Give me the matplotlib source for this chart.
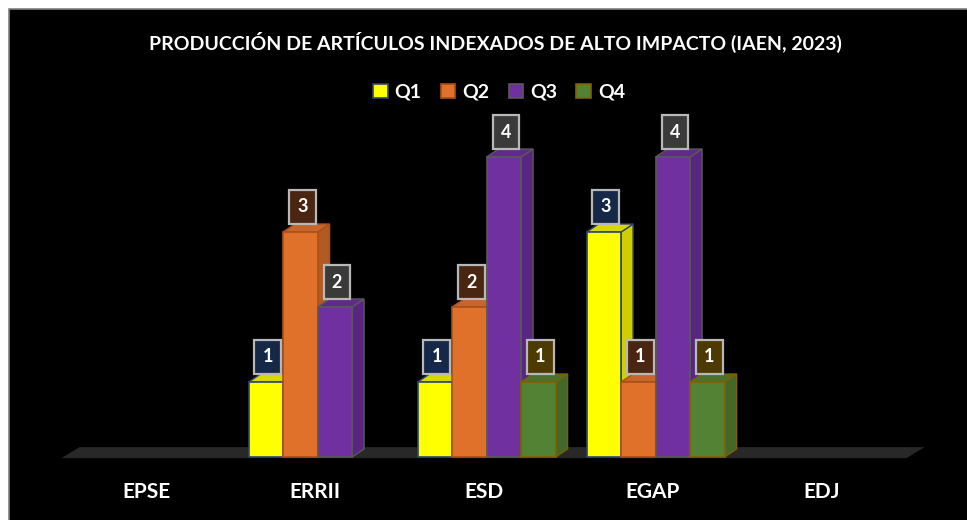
import matplotlib
matplotlib.use("Agg")
import matplotlib.pyplot as plt
from matplotlib.patches import Polygon, Rectangle, Patch
import numpy as np

plt.rcParams['font.family'] = ['Lato', 'DejaVu Sans']

title = "PRODUCCIÓN DE ARTÍCULOS INDEXADOS DE ALTO IMPACTO (IAEN, 2023)"
categories = ["EPSE", "ERRII", "ESD", "EGAP", "EDJ"]
series = ["Q1", "Q2", "Q3", "Q4"]
q1 = [0, 1, 1, 3, 0]
q2 = [0, 3, 2, 1, 0]
q3 = [0, 2, 4, 4, 0]
q4 = [0, 0, 1, 1, 0]
values = [q1, q2, q3, q4]

front = ["#FFFF00", "#E0712A", "#7030A0", "#548235"]
side = ["#CFCF00", "#B35A22", "#582680", "#43682A"]
top = ["#D8D800", "#C8652A", "#602A8C", "#4A722E"]
edges = ["#2F4470", "#A8501A", "#595959", "#7F6000"]
lab_bg = ["#162848", "#4A2612", "#3A3A3A", "#4D3A00"]

W, H = 967, 520
fig = plt.figure(figsize=(W/100, H/100), dpi=100, facecolor="white")
fig.patches.append(Rectangle((9/W, -0.01), 1.0, 1 - 9/H + 0.01, transform=fig.transFigure,
                             facecolor="black", edgecolor="#808080", lw=1.2, zorder=-5))

# axes: x unit = 169 px, y unit = 75 px, y=0 at 457 px
ax = fig.add_axes([61.5/W, (H-457)/H, 845/W, 337.5/H])
ax.set_zorder(2)
ax.set_xlim(-0.5, 4.5)
ax.set_ylim(0, 4.5)
ax.axis("off")
ax.patch.set_alpha(0)

xu, yu = 169.0, 75.0
dx, dy = 12/xu, 8/yu
bw = 34.5/xu
x = np.arange(len(categories))

# floor
fdx, fdy = 18/xu, 11/yu
floor = Polygon([(-0.5, -0.015), (4.5, -0.015), (4.5+fdx, -0.015+fdy), (-0.5+fdx, -0.015+fdy)],
                closed=True, facecolor="#282828", edgecolor="none", zorder=1, clip_on=False)
ax.add_patch(floor)

for s, vals in enumerate(values):
    lefts = x - 0.393 + s*bw
    v = np.array(vals, dtype=float)
    mask = v > 0
    ax.bar(lefts[mask], v[mask], width=bw, align="edge", color=front[s],
           edgecolor=edges[s], linewidth=1.2, zorder=3+2*s, clip_on=False)
    for l, h in zip(lefts[mask], v[mask]):
        r = l + bw
        ax.add_patch(Polygon([(r, 0), (r+dx, dy), (r+dx, h+dy), (r, h)], closed=True,
                             facecolor=side[s], edgecolor=edges[s], lw=1.0,
                             zorder=2+2*s, clip_on=False))
        ax.add_patch(Polygon([(l, h), (r, h), (r+dx, h+dy), (l+dx, h+dy)], closed=True,
                             facecolor=top[s], edgecolor=edges[s], lw=1.0,
                             zorder=2+2*s, clip_on=False))
        ax.text(l + bw/2 + 2/xu, h + 25/yu, f"{int(h)}", ha="center", va="center",
                color="white", fontsize=13, fontweight="bold", zorder=20,
                bbox=dict(boxstyle="square,pad=0.45", facecolor=lab_bg[s],
                          edgecolor="#B8B8B8", linewidth=1.6))

for i, c in enumerate(categories):
    ax.text(i, -35/yu, c, ha="center", va="center", color="white",
            fontsize=15, fontweight="bold", clip_on=False)

fig.text(495/W, 1 - 42/H, title, ha="center", va="center", color="white",
         fontsize=14, fontweight="bold")

handles = [Patch(facecolor=front[s], edgecolor=edges[s], linewidth=1.2, label=series[s])
           for s in range(4)]
leg = fig.legend(handles=handles, loc="center", bbox_to_anchor=(499/W, 1 - 92/H), ncol=4,
                 frameon=False, handlelength=0.75, handleheight=0.75, handletextpad=0.35,
                 columnspacing=1.0, prop=dict(size=14, weight="bold"))
for t in leg.get_texts():
    t.set_color("white")

fig.savefig("out.png", dpi=100, facecolor="white")
